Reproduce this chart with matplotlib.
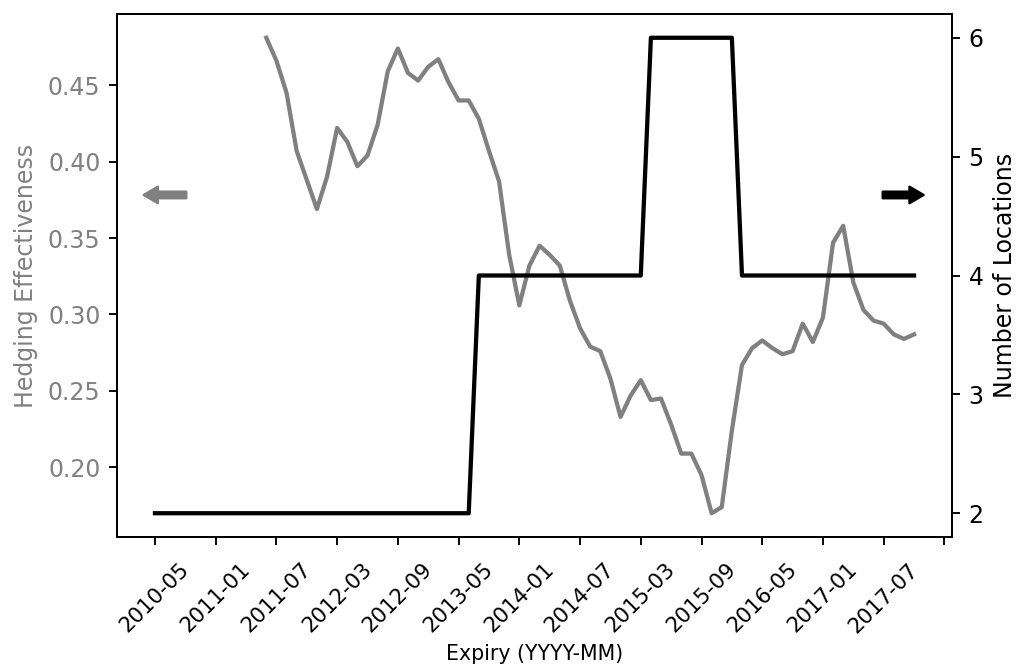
import matplotlib
matplotlib.use('Agg')
import matplotlib.pyplot as plt
import numpy as np

# expiry index (0 = 2010-05), ticks every 6 contracts
tick_labels = ['2010-05', '2011-01', '2011-07', '2012-03', '2012-09', '2013-05',
               '2014-01', '2014-07', '2015-03', '2015-09', '2016-05', '2017-01',
               '2017-07', '']

# hedging effectiveness, starts at index 11
he_start = 11
hedge_eff = [0.481, 0.466, 0.445, 0.407, 0.388, 0.369, 0.390, 0.422, 0.413, 0.397,
             0.404, 0.424, 0.459, 0.474, 0.458, 0.453, 0.462, 0.467, 0.452, 0.440,
             0.440, 0.428, 0.407, 0.387, 0.339, 0.306, 0.332, 0.345, 0.339, 0.332,
             0.309, 0.291, 0.279, 0.276, 0.258, 0.233, 0.247, 0.257, 0.244, 0.245,
             0.228, 0.209, 0.209, 0.195, 0.170, 0.174, 0.224, 0.267, 0.278, 0.283,
             0.278, 0.274, 0.276, 0.294, 0.282, 0.298, 0.347, 0.358, 0.321, 0.303,
             0.296, 0.294, 0.287, 0.284, 0.287]

# number of locations per expiry index
n_locations = [2] * 32 + [4] * 17 + [6] * 9 + [4] * 18

he_x = np.arange(he_start, he_start + len(hedge_eff))
loc_x = np.arange(len(n_locations))

fig = plt.figure(figsize=(1016 / 170, 669 / 170), dpi=170)
ax = fig.add_axes([117 / 1016, 1 - 537 / 669, 835 / 1016, 523 / 669])
ax.plot(he_x, hedge_eff, color='gray', lw=1.8)
ax.set_ylabel('Hedging Effectiveness', color='gray')
ax.tick_params(axis='y', labelcolor='gray')
ax.set_xlabel('Expiry (YYYY-MM)', fontsize=8.7, labelpad=3)
ax.set_xticks(np.arange(0, 6 * len(tick_labels), 6))
ax.set_xticklabels(tick_labels, rotation=45, fontsize=9)
ax.tick_params(axis='x', pad=6)
ax.set_yticks([0.20, 0.25, 0.30, 0.35, 0.40, 0.45])
ax.annotate('', xy=(0.032, 0.654), xytext=(0.083, 0.654), xycoords='axes fraction',
            arrowprops=dict(color='gray', width=2.8, headwidth=7, headlength=6, shrink=0))

ax2 = ax.twinx()
ax2.plot(loc_x, n_locations, color='black', lw=1.8)
ax2.set_ylabel('Number of Locations')
ax2.set_yticks([2, 3, 4, 5, 6])
ax2.annotate('', xy=(0.966, 0.654), xytext=(0.917, 0.654), xycoords='axes fraction',
             arrowprops=dict(color='black', width=2.8, headwidth=7, headlength=6, shrink=0))

plt.savefig('out.png', dpi=170)
